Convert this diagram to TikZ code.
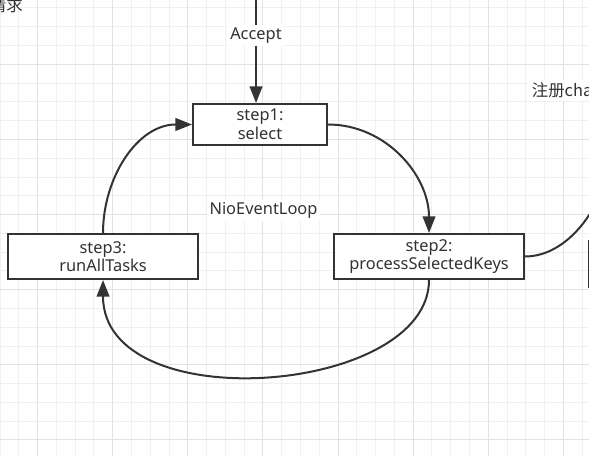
\documentclass[tikz,border=0pt]{standalone}
\usepackage{fontspec}
\setmainfont{Noto Sans}
\newfontfamily\cjk{Noto Sans CJK SC}
\usetikzlibrary{arrows.meta}
\definecolor{ink}{HTML}{333333}
\definecolor{gridminor}{HTML}{F0F0F0}
\definecolor{gridmajor}{HTML}{E2E2E2}
\tikzset{
    stepbox/.style={draw=ink, line width=1.5pt, fill=white, align=center, inner sep=0pt, text=ink},
    lbl/.style={fill=white, text=ink, inner sep=2pt},
    flow/.style={draw=ink, line width=1.5pt, -{Triangle[length=12.5pt, width=9.5pt]}},
}
\begin{document}
\begin{tikzpicture}[x=0.75pt, y=-0.75pt, font=\fontsize{12.3}{14}\selectfont]
    \def\cell{18.78}
    \useasboundingbox (0,0) rectangle (589,456);
    \clip (0,0) rectangle (589,456);
    % Background grid
    \foreach \i in {0,...,31}
        \draw[gridminor, line width=0.75pt] (\i*\cell,0) -- (\i*\cell,456);
    \foreach \j in {0,...,24}
        \draw[gridminor, line width=0.75pt] (0,8+\j*\cell) -- (589,8+\j*\cell);
    \foreach \i in {2,6,...,30}
        \draw[gridmajor, line width=0.75pt] (\i*\cell,0) -- (\i*\cell,456);
    \foreach \j in {3,7,...,23}
        \draw[gridmajor, line width=0.75pt] (0,8+\j*\cell) -- (589,8+\j*\cell);
    % Steps of the loop
    \node[stepbox, minimum width=100.5pt, minimum height=30.75pt] (s1) at (260,124.5) {step1:\\select};
    \node[stepbox, minimum width=142.5pt, minimum height=33.75pt] (s3) at (103,256.5) {step3:\\runAllTasks};
    \node[stepbox, minimum width=142.5pt, minimum height=33.75pt] (s2) at (429,256.5) {step2:\\processSelectedKeys};
    % Box cut off at the right edge
    \node[stepbox, anchor=north west, minimum width=120pt, minimum height=35pt] (s4) at (588.3,239.5) {};
    % Incoming accept
    \coordinate (top) at (256,-2);
    \draw[flow] (top) -- node[lbl, pos=0.36] (acc) {Accept} (top |- s1.north);
    % Loop arrows
    \draw[flow] (s1.east) to[out=0, in=90] (s2.north);
    \draw[flow] (s2.south) .. controls +(0,115) and +(0,140) .. (s3.south);
    \draw[flow] (s3.north) to[out=90, in=180] (s1.west);
    % Registration line leaving to the right
    \coordinate (reg) at (612,140);
    \draw[ink, line width=1.5pt] (s2.east) .. controls +(48,0) and +(0,55) .. (reg);
    % Texts
    \node[lbl] (loop) at (263.5,210.5) {NioEventLoop};
    \node[lbl, anchor=base west] (regtxt) at (529,97) {\cjk 注册cha};
    \node[text=ink, anchor=base east, inner sep=0pt] (req) at (23,11.5) {\cjk 请求};
\end{tikzpicture}
\end{document}
